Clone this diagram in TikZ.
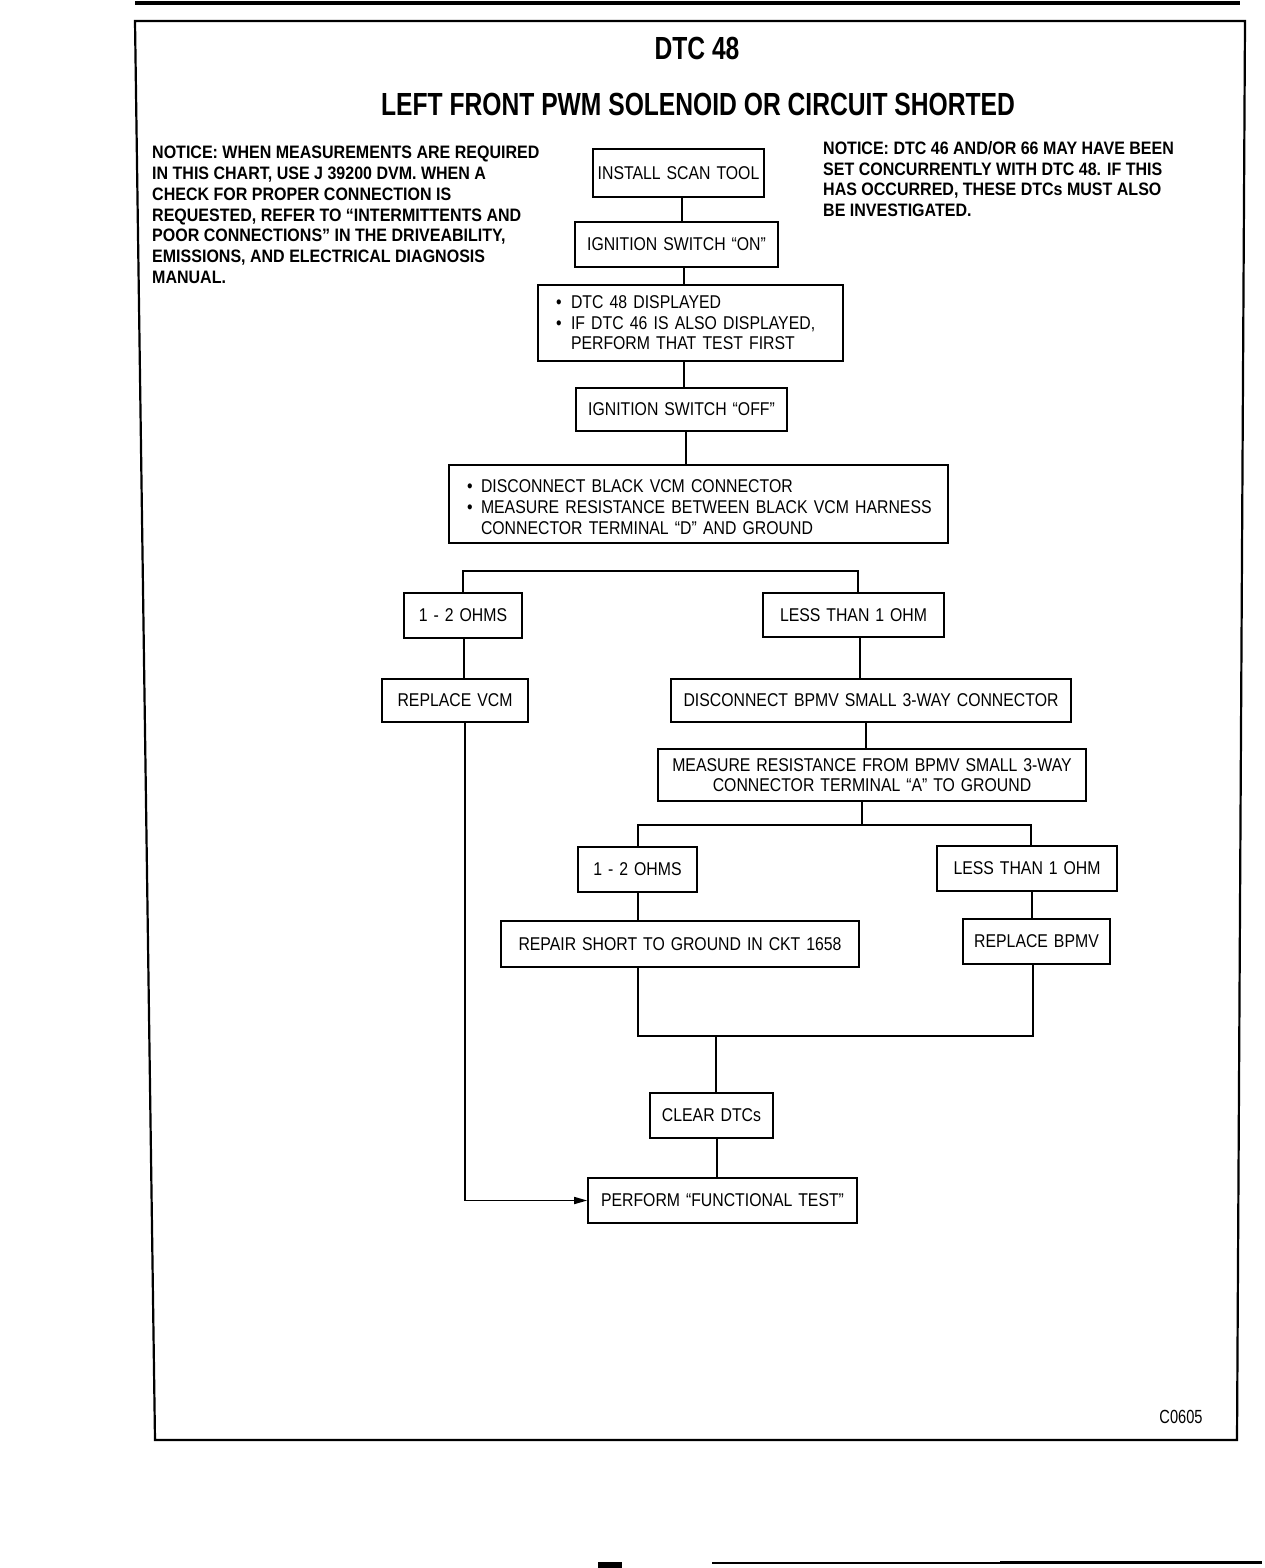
\documentclass[tikz,border=0pt]{standalone}
\usepackage{fontspec}
\setmainfont{Liberation Sans}
\newfontfamily\titlefont[FakeStretch=0.77]{Liberation Sans}
\newfontfamily\notefont[FakeStretch=0.89]{Liberation Sans}
\newfontfamily\boxfont[FakeStretch=0.855,WordSpace=1.35]{Liberation Sans}
\usetikzlibrary{arrows.meta}
\tikzset{
  box/.style={draw, line width=1.6pt, inner sep=0pt, align=center,
    font=\boxfont\fontsize{18.5}{20.6}\selectfont},
  lbox/.style={box, align=left, inner xsep=18pt},
  conn/.style={line width=1.6pt},
  note/.style={inner sep=0pt, align=left, anchor=north west,
    font=\notefont\bfseries\fontsize{18}{20.8}\selectfont},
  ttl/.style={inner sep=0pt, font=\titlefont\bfseries\fontsize{32}{34}\selectfont}
}
\newcommand{\bul}[1]{\makebox[#1][l]{•}}
\begin{document}
\begin{tikzpicture}[x=1pt,y=-1pt]
\useasboundingbox (0,0) rectangle (1264,1568);
% page rules and frame
\draw[line width=4pt] (135,3) -- (1240,3);
\draw[line width=2.2pt] (135,21) -- (1245,21) -- (1237,1440) -- (155,1440) -- cycle;
\draw[line width=1.5pt] (712,1563) -- (1262,1563);
\draw[line width=3pt] (1000,1562) -- (1262,1562);
\fill (598,1562) rectangle (622,1568);

% titles
\node[ttl] (t1) at (697,48) {DTC 48};
\node[ttl] (t2) at (698,104.5) {LEFT FRONT PWM SOLENOID OR CIRCUIT SHORTED};

% notices
\node[note] (nl) at (152,146) {NOTICE: WHEN MEASUREMENTS ARE REQUIRED\\
IN THIS CHART, USE J 39200 DVM. WHEN A\\
CHECK FOR PROPER CONNECTION IS\\
REQUESTED, REFER TO “INTERMITTENTS AND\\
POOR CONNECTIONS” IN THE DRIVEABILITY,\\
EMISSIONS, AND ELECTRICAL DIAGNOSIS\\
MANUAL.};
\node[note] (nr) at (823,141) {NOTICE: DTC 46 AND/OR 66 MAY HAVE BEEN\\
SET CONCURRENTLY WITH DTC 48. IF THIS\\
HAS OCCURRED, THESE DTCs MUST ALSO\\
BE INVESTIGATED.};

% boxes
\node[box, minimum width=171, minimum height=48] (n1) at (678.5,173) {INSTALL SCAN TOOL};
\node[box, minimum width=203, minimum height=45] (n2) at (676.5,244.5) {IGNITION SWITCH “ON”};
\node[lbox, text width=269, minimum height=76] (n3) at (690.5,323)
  {\mbox{\bul{15pt}DTC 48 DISPLAYED}\\
   \mbox{\bul{15pt}IF DTC 46 IS ALSO DISPLAYED,}\\
   \mbox{\hspace*{15pt}PERFORM THAT TEST FIRST}};
\node[box, minimum width=211, minimum height=43] (n4) at (681.5,409.5) {IGNITION SWITCH “OFF”};
\node[lbox, text width=463, minimum height=78] (n5) at (698.5,504)
  {\rule{0pt}{19pt}\mbox{\bul{14pt}DISCONNECT BLACK VCM CONNECTOR}\\
   \mbox{\bul{14pt}MEASURE RESISTANCE BETWEEN BLACK VCM HARNESS}\\
   \mbox{\hspace*{14pt}CONNECTOR TERMINAL “D” AND GROUND}};
\node[box, minimum width=118, minimum height=45] (n6) at (463,615.5) {1 - 2 OHMS};
\node[box, minimum width=181, minimum height=44] (n7) at (853.5,615) {LESS THAN 1 OHM};
\node[box, minimum width=146, minimum height=43] (n8) at (455,700.5) {REPLACE VCM};
\node[box, minimum width=400, minimum height=43] (n9) at (871,700.5) {DISCONNECT BPMV SMALL 3-WAY CONNECTOR};
\node[box, minimum width=428, minimum height=52] (n10) at (872,775) {MEASURE RESISTANCE FROM BPMV SMALL 3-WAY\\CONNECTOR TERMINAL “A” TO GROUND};
\node[box, minimum width=119, minimum height=45] (n11) at (637.5,869.5) {1 - 2 OHMS};
\node[box, minimum width=180, minimum height=45] (n12) at (1027,868.5) {LESS THAN 1 OHM};
\node[box, minimum width=358, minimum height=46] (n13) at (680,944) {REPAIR SHORT TO GROUND IN CKT 1658};
\node[box, minimum width=147, minimum height=45] (n14) at (1036.5,941.5) {REPLACE BPMV};
\node[box, minimum width=123, minimum height=45] (n15) at (711.5,1115.5) {CLEAR DTCs};
\node[box, minimum width=269, minimum height=45] (n16) at (722.5,1200.5) {PERFORM “FUNCTIONAL TEST”};

\node[inner sep=0pt, font=\titlefont\fontsize{19}{20}\selectfont] (code) at (1181,1417) {C0605};

% connectors
\draw[conn] (682,0 |- n1.south) -- (682,0 |- n2.north);
\draw[conn] (684,0 |- n2.south) -- (684,0 |- n3.north);
\draw[conn] (684,0 |- n3.south) -- (684,0 |- n4.north);
\draw[conn] (686,0 |- n4.south) -- (686,0 |- n5.north);
\draw[conn] (463,0 |- n6.north) -- (463,571) -- (858,571) -- (858,0 |- n7.north);
\draw[conn] (464,0 |- n6.south) -- (464,0 |- n8.north);
\draw[conn] (860,0 |- n7.south) -- (860,0 |- n9.north);
\draw[conn] (866,0 |- n9.south) -- (866,0 |- n10.north);
\draw[conn] (862,0 |- n10.south) -- (862,825);
\draw[conn] (638,0 |- n11.north) -- (638,825) -- (1031,825) -- (1031,0 |- n12.north);
\draw[conn] (638,0 |- n11.south) -- (638,0 |- n13.north);
\draw[conn] (1032,0 |- n12.south) -- (1032,0 |- n14.north);
\draw[conn] (638,0 |- n13.south) -- (638,1036) -- (1033,1036) -- (1033,0 |- n14.south);
\draw[conn] (716,1036) -- (716,0 |- n15.north);
\draw[conn] (717,0 |- n15.south) -- (717,0 |- n16.north);
\draw[conn, -{Triangle[length=13pt,width=7pt]}] (465,0 |- n8.south) -- (465,0 |- n16.west) -- (n16.west);
\end{tikzpicture}
\end{document}
